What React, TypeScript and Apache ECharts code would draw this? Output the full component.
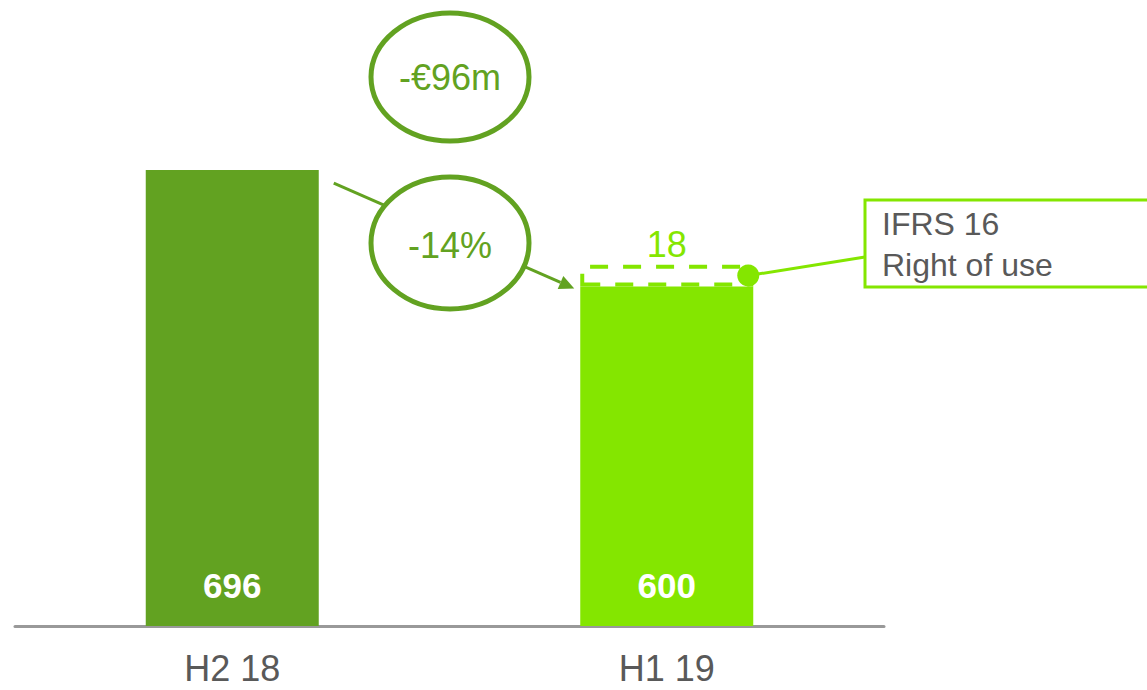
import React, { useEffect, useRef } from "react";
import * as echarts from "echarts";

// Half-year comparison: base amounts plus the IFRS 16 right-of-use add-on
const categories = ["H2 18", "H1 19"];
const baseValues = [696, 600];
const ifrsValues: (number | string)[] = ["-", 18];
const barColors = ["#62a221", "#84e600"];
const changeAbs = "-€96m";
const changePct = "-14%";
const calloutLines = ["IFRS 16", "Right of use"];

const FONT = '"Liberation Sans", Arial, sans-serif';
const DARK_GREEN = "#62a221";
const LIGHT_GREEN = "#84e600";
const GREY_TEXT = "#595959";
const BAR_WIDTH = 173;

export default function App() {
  const ref = useRef<HTMLDivElement>(null);

  useEffect(() => {
    if (!ref.current) return;
    const chart = echarts.init(ref.current, null, { renderer: "svg" });

    chart.setOption({
      animation: false,
      grid: { left: 15, right: 263, top: 44, bottom: 64 },
      xAxis: {
        type: "category",
        data: categories,
        axisLine: { lineStyle: { color: "#999999", width: 3 } },
        axisTick: { show: false },
        axisLabel: { color: GREY_TEXT, fontSize: 36, margin: 24, fontFamily: FONT },
      },
      yAxis: { type: "value", min: 320, max: 800, show: false },
      series: [
        {
          type: "bar",
          stack: "total",
          barWidth: BAR_WIDTH,
          data: baseValues.map((v, i) => ({ value: v, itemStyle: { color: barColors[i] } })),
          label: {
            show: true,
            position: "insideBottom",
            distance: 23,
            color: "#ffffff",
            fontWeight: "bold",
            fontSize: 35,
            fontFamily: FONT,
          },
        },
        {
          type: "bar",
          stack: "total",
          barWidth: BAR_WIDTH,
          data: ifrsValues,
          itemStyle: {
            color: "#ffffff",
            borderColor: LIGHT_GREEN,
            borderWidth: 4,
            borderType: [18, 15],
          },
          label: {
            show: true,
            position: "top",
            distance: 2,
            color: LIGHT_GREEN,
            fontSize: 36,
            fontFamily: FONT,
          },
        },
      ],
    });

    // Anchor annotations to the bars through the axis scales
    const half = BAR_WIDTH / 2;
    const top0 = chart.convertToPixel({ seriesIndex: 0 }, [0, baseValues[0]]) as number[];
    const top1 = chart.convertToPixel({ seriesIndex: 0 }, [1, baseValues[1]]) as number[];
    const segTop = chart.convertToPixel({ seriesIndex: 1 }, [1, baseValues[1] + (ifrsValues[1] as number)]) as number[];

    const start = [top0[0] + half + 15, top0[1] + 13];
    const tip = [top1[0] - half - 6, top1[1] + 2];
    const dx = tip[0] - start[0];
    const dy = tip[1] - start[1];
    const len = Math.hypot(dx, dy);
    const ux = dx / len;
    const uy = dy / len;
    const headLen = 15;
    const headHalf = 7;
    const base = [tip[0] - ux * headLen, tip[1] - uy * headLen];

    const dot = [segTop[0] + half - 5, (segTop[1] + top1[1]) / 2];
    const boxX = 865;
    const boxY = 200;
    const boxH = 87;

    chart.setOption({
      graphic: [
        {
          type: "line",
          shape: { x1: start[0], y1: start[1], x2: base[0], y2: base[1] },
          style: { stroke: DARK_GREEN, lineWidth: 3 },
          z: 10,
        },
        {
          type: "polygon",
          shape: {
            points: [
              [tip[0], tip[1]],
              [base[0] - uy * headHalf, base[1] + ux * headHalf],
              [base[0] + uy * headHalf, base[1] - ux * headHalf],
            ],
          },
          style: { fill: DARK_GREEN },
          z: 10,
        },
        {
          type: "ellipse",
          shape: { cx: 450, cy: 77, rx: 79, ry: 64 },
          style: { fill: "#ffffff", stroke: DARK_GREEN, lineWidth: 5 },
          z: 11,
        },
        {
          type: "text",
          x: 450,
          y: 77,
          style: {
            text: changeAbs,
            fill: DARK_GREEN,
            fontSize: 36,
            fontFamily: FONT,
            align: "center",
            verticalAlign: "middle",
          },
          z: 12,
        },
        {
          type: "ellipse",
          shape: { cx: 450, cy: 243, rx: 79, ry: 66 },
          style: { fill: "#ffffff", stroke: DARK_GREEN, lineWidth: 5 },
          z: 11,
        },
        {
          type: "text",
          x: 450,
          y: 245,
          style: {
            text: changePct,
            fill: DARK_GREEN,
            fontSize: 36,
            fontFamily: FONT,
            align: "center",
            verticalAlign: "middle",
          },
          z: 12,
        },
        {
          type: "line",
          shape: { x1: dot[0], y1: dot[1], x2: boxX, y2: boxY + 57 },
          style: { stroke: LIGHT_GREEN, lineWidth: 3 },
          z: 10,
        },
        {
          type: "circle",
          shape: { cx: dot[0], cy: dot[1], r: 11 },
          style: { fill: LIGHT_GREEN },
          z: 11,
        },
        {
          type: "rect",
          shape: { x: boxX, y: boxY, width: 320, height: boxH },
          style: { fill: "#ffffff", stroke: LIGHT_GREEN, lineWidth: 3 },
          z: 10,
        },
        {
          type: "text",
          x: boxX + 17,
          y: boxY + 24,
          style: {
            text: calloutLines[0],
            fill: GREY_TEXT,
            fontSize: 32,
            fontFamily: FONT,
            align: "left",
            verticalAlign: "middle",
          },
          z: 11,
        },
        {
          type: "text",
          x: boxX + 17,
          y: boxY + 65,
          style: {
            text: calloutLines[1],
            fill: GREY_TEXT,
            fontSize: 32,
            fontFamily: FONT,
            align: "left",
            verticalAlign: "middle",
          },
          z: 11,
        },
      ],
    });

    return () => chart.dispose();
  }, []);

  return (
    <div
      ref={ref}
      style={{ position: "fixed", left: 0, top: 0, width: 1147, height: 690, background: "#ffffff" }}
    />
  );
}
